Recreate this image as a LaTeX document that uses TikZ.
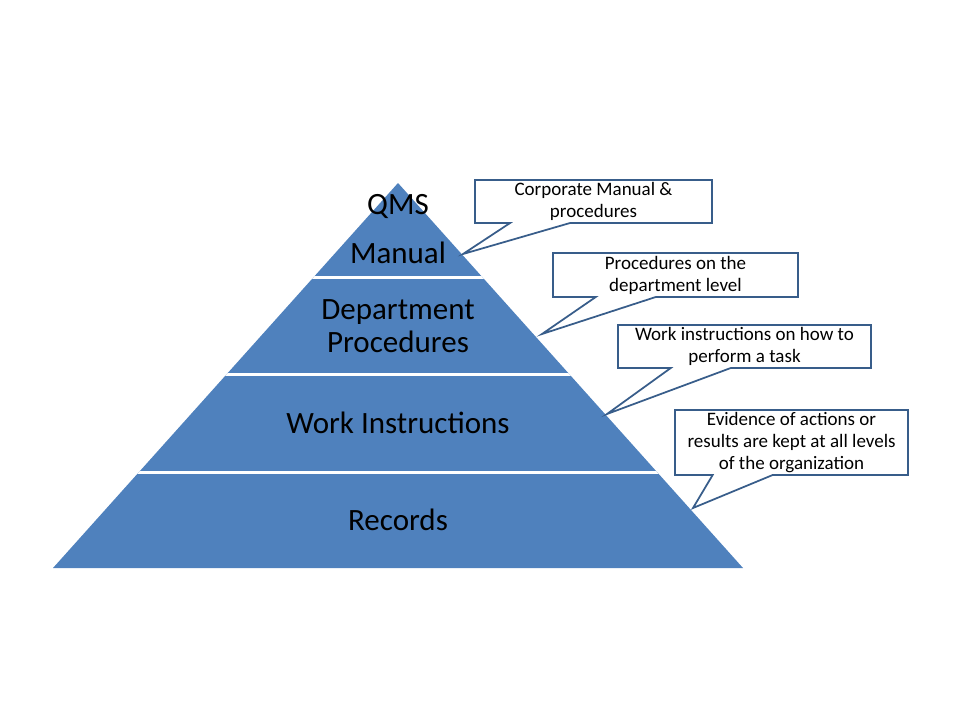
\documentclass[tikz,border=0pt]{standalone}
\usepackage{fontspec}
\setmainfont{Carlito}
\usetikzlibrary{shapes.callouts}
\definecolor{layerblue}{HTML}{4F81BD}
\definecolor{edgeblue}{HTML}{385D8A}
\newcommand{\layerfont}{\fontsize{31}{33.5}\selectfont}
\newcommand{\notefont}{\fontsize{19}{22}\selectfont}

\begin{document}
\begin{tikzpicture}[x=1pt,y=-1pt,
  layertext/.style={align=center,font=\layerfont,text=black},
  note/.style={rectangle callout,draw=edgeblue,line width=1.75pt,fill=white,
    inner sep=0pt,align=center,font=\notefont,callout pointer width=60pt}]

\useasboundingbox (0,0) rectangle (960,720);

% pyramid
\coordinate (apex) at (398,183);
\coordinate (bl) at (53,568);
\coordinate (br) at (743,568);
\fill[layerblue] (apex) -- (br) -- (bl) -- cycle;
\begin{scope}
  \clip (apex) -- (br) -- (bl) -- cycle;
  \foreach \y in {277.5,374.5,472.5}
    \draw[white,line width=3pt] (0,\y) -- (960,\y);
\end{scope}

% layer labels
\node[layertext] (qms) at (398,206) {QMS};
\node[layertext] (manual) at (398,253) {Manual};
\node[layertext] (dept) at (398,326) {Department\\Procedures};
\node[layertext] (work) at (398,423) {Work Instructions};
\node[layertext] (rec) at (398,520) {Records};

% callout tips on the right edge
\coordinate (t1) at (463,254);
\coordinate (t2) at (542,334);
\coordinate (t3) at (607,414);
\coordinate (t4) at (693,508);

% notes
\node[note,minimum width=237pt,minimum height=43pt,callout absolute pointer={(t1)}]
  (c1) at (593.5,201.5) {Corporate Manual \&\\procedures};
\node[note,minimum width=245pt,minimum height=44pt,callout absolute pointer={(t2)}]
  (c2) at (675.5,275) {Procedures on the\\department level};
\node[note,minimum width=253pt,minimum height=43pt,callout absolute pointer={(t3)}]
  (c3) at (744.5,346.5) {Work instructions on how to\\perform a task};
\node[note,minimum width=233pt,minimum height=65pt,callout absolute pointer={(t4)}]
  (c4) at (791.5,442.5) {Evidence of actions or\\results are kept at all levels\\of the organization};

\end{tikzpicture}
\end{document}
